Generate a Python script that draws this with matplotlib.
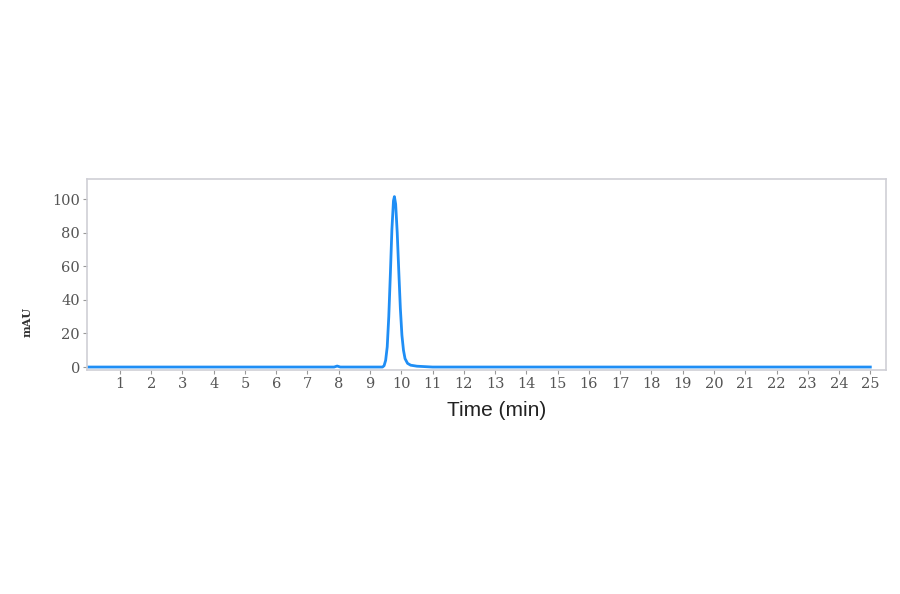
import matplotlib.pyplot as plt

# retention time (min) and absorbance (mAU)
time_min = [0.0, 7.85, 7.95, 8.05, 9.40, 9.45, 9.50, 9.55, 9.60, 9.65, 9.70, 9.75,
            9.78, 9.82, 9.87, 9.92, 9.97, 10.02, 10.07, 10.12, 10.20, 10.30,
            10.50, 10.80, 11.0, 25.0]
mau = [0.0, 0.0, 0.6, 0.0, 0.0, 0.8, 4.0, 12.0, 30.0, 55.0, 82.0, 99.0,
       101.5, 97.0, 80.0, 57.0, 35.0, 19.0, 10.0, 5.0, 2.2, 1.1,
       0.5, 0.2, 0.0, 0.0]

xticks = list(range(1, 26))
yticks = [0, 20, 40, 60, 80, 100]

fig = plt.figure(figsize=(9, 5.94), dpi=100)
ax = fig.add_axes([0.0967, 0.377, 0.8877, 0.3217])

ax.plot(time_min, mau, color='#1f8ef5', lw=2)

ax.set_xlim(-0.05, 25.5)
ax.set_ylim(-1.8, 112)
ax.set_xticks(xticks)
ax.set_yticks(yticks)

for s in ax.spines.values():
    s.set_color('#cfcfd6')
    s.set_linewidth(1.2)

ax.tick_params(axis='x', direction='out', length=3, color='#999999',
               labelsize=10.5, labelcolor='#555555', pad=2)
ax.tick_params(axis='y', direction='out', length=3, color='#999999',
               labelsize=10.5, labelcolor='#555555', pad=2)
for lab in ax.get_xticklabels() + ax.get_yticklabels():
    lab.set_family('DejaVu Serif')

ax.set_xlabel('Time (min)', fontsize=15, color='#222222',
              family='Liberation Sans')
ax.xaxis.set_label_coords(0.5125, -0.16)
fig.text(0.03, 0.458, 'mAU', rotation=90, fontsize=8, fontweight='bold',
         family='DejaVu Serif', color='#333333', ha='center', va='center')

fig.savefig('out.png', dpi=100, facecolor='white')
